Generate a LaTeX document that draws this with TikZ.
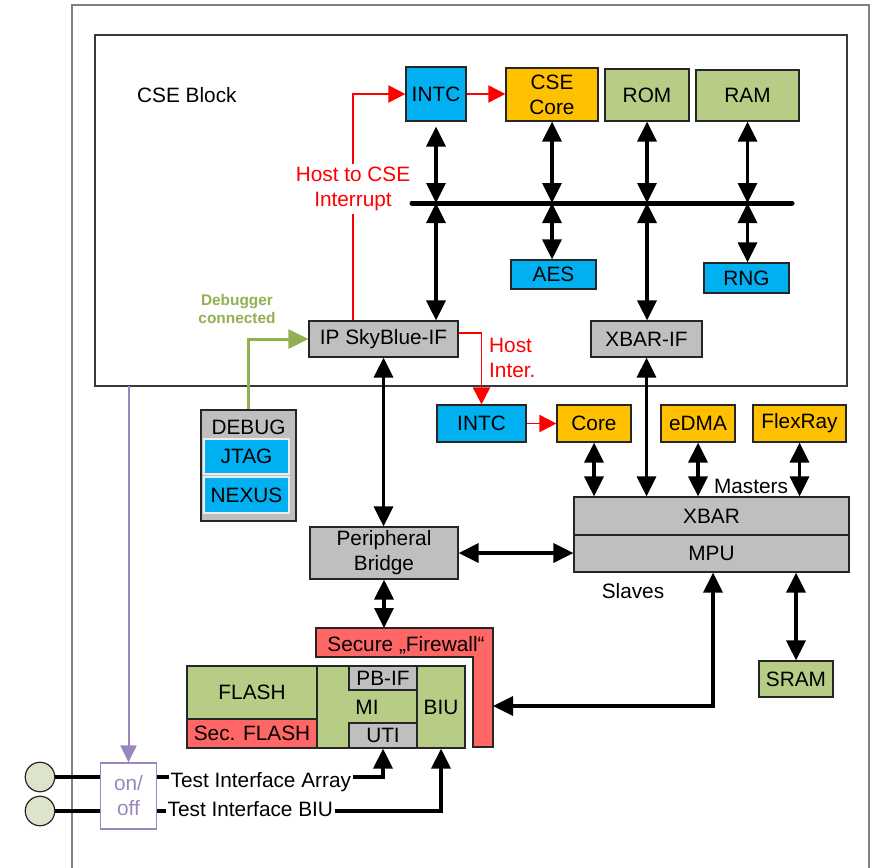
\documentclass[tikz,border=0pt]{standalone}
\usepackage{fontspec}
\setmainfont{Liberation Sans}
\usetikzlibrary{arrows.meta}

\definecolor{cyanbox}{RGB}{0,176,240}
\definecolor{orangebox}{RGB}{255,192,0}
\definecolor{greenbox}{RGB}{183,204,133}
\definecolor{graybox}{RGB}{191,191,191}
\definecolor{redbox}{RGB}{255,102,102}
\definecolor{sigred}{RGB}{255,0,0}
\definecolor{dbggreen}{RGB}{146,176,80}
\definecolor{lilac}{RGB}{155,135,192}
\definecolor{padfill}{RGB}{221,228,204}
\definecolor{edgecol}{RGB}{38,38,38}
\definecolor{framecol}{RGB}{128,128,128}

\tikzset{
  sz/.style 2 args={minimum width=#1, minimum height=#2},
  box/.style={draw=edgecol, line width=1.2pt, align=center, text=black, inner sep=0pt},
  cyanb/.style={box, fill=cyanbox},
  orangeb/.style={box, fill=orangebox},
  greenb/.style={box, fill=greenbox},
  grayb/.style={box, fill=graybox},
  redb/.style={box, fill=redbox},
  bigtip/.tip={Triangle[length=20pt,width=19pt]},
  dbl/.style={draw=black, line width=3.2pt, bigtip-bigtip},
  uni/.style={draw=black, line width=3.2pt, -bigtip},
  wire/.style={draw=black, line width=3.2pt},
  sig/.style={draw=sigred, line width=1.9pt, -{Triangle[length=17pt,width=17pt]}},
  dbgline/.style={draw=dbggreen, line width=3pt, -{Triangle[length=20pt,width=19pt]}},
  ctlline/.style={draw=lilac, line width=2pt, -{Triangle[length=17pt,width=16pt]}},
}

\begin{document}
\begin{tikzpicture}[x=1pt,y=-1pt,
  every node/.style={font=\fontsize{20.8}{25}\selectfont}]
\useasboundingbox (0,0) rectangle (872,867);
\clip (0,0) rectangle (872,867);

% chip outline and CSE block frame
\draw[framecol, line width=1.5pt] (72,5) rectangle (869,900);
\draw[edgecol!80!gray, line width=1.2pt] (95,35) rectangle (847,386);
\node[anchor=west, inner sep=0pt] (cselabel) at (137,95) {CSE Block};

% CSE internals
\node[cyanb,   sz={60}{54}]  (intcA)   at (436,94)    {INTC};
\node[orangeb, sz={92}{53}]  (csecore) at (552,94.5)  {CSE\\Core};
\node[greenb,  sz={84}{52}]  (rom)     at (647,95)    {ROM};
\node[greenb,  sz={103}{51}] (ram)     at (747.5,95.5){RAM};
\node[cyanb,   sz={85}{29}]  (aes)     at (553.5,274.5){AES};
\node[cyanb,   sz={85}{30}]  (rng)     at (746.5,278) {RNG};
\node[grayb,   sz={149}{36}] (ipsky)   at (383.5,339) {IP SkyBlue-IF};
\node[grayb,   sz={111}{36}] (xbarif)  at (646.5,339) {XBAR-IF};

% host to CSE interrupt path
\draw[sig] ([xshift=-30.5pt]ipsky.north) |- (intcA.west);
\node[fill=white, text=sigred, align=center, inner xsep=0pt, inner ysep=3pt] (hostcse) at (353,189) {Host to CSE\\Interrupt};
\draw[sig] (intcA.east) -- (intcA.east -| csecore.west);

% internal bus
\coordinate (busL) at (412,203);
\coordinate (busR) at (792,203);
\draw[black, line width=5pt, line cap=round] (busL) -- (busR);

\draw[dbl, shorten <=5pt] (intcA.south) -- (intcA.south |- busL);
\draw[dbl] (intcA.south |- busL) -- (intcA.south |- ipsky.north);
\draw[dbl] (csecore.south) -- (csecore.south |- busL);
\draw[dbl] (csecore.south |- busL) -- (csecore.south |- aes.north);
\draw[dbl] (rom.south) -- (rom.south |- busL);
\draw[dbl] (rom.south |- busL) -- (rom.south |- xbarif.north);
\draw[dbl] (ram.south) -- (ram.south |- busL);
\draw[dbl] (ram.south |- busL) -- (ram.south |- rng.north);

% host side
\node[cyanb,   sz={89}{37}]  (intcB)   at (481.5,423.5) {INTC};
\node[orangeb, sz={74}{37}]  (coreB)   at (594,423.5)   {Core};
\node[orangeb, sz={74}{37}]  (edma)    at (698,423.5)   {eDMA};
\node[orangeb, sz={93}{37}]  (flexray) at (799.5,423.5) {FlexRay};
\node[grayb,   sz={275}{38}] (xbar)    at (711.5,516)   {XBAR};
\node[grayb,   sz={275}{37}] (mpu)     at (711.5,553.5) {MPU};
\node (masters) at (751,486) {Masters};
\node (slaves)  at (633,591) {Slaves};

\draw[sig] ([yshift=6pt]ipsky.east) -| (intcB.north);
\node[anchor=west, text=sigred, align=left, inner sep=0pt] (hostinter) at (489,357.5) {Host\\Inter.};
\draw[sig] (intcB.east) -- (intcB.east -| coreB.west);

\draw[dbl] (xbarif.south) -- (xbarif.south |- xbar.north);
\draw[dbl] (coreB.south) -- (coreB.south |- xbar.north);
\draw[dbl] (edma.south) -- (edma.south |- xbar.north);
\draw[dbl] (flexray.south) -- (flexray.south |- xbar.north);

% debug port
\node[grayb, sz={95}{111}] (debug) at (248.5,465.5) {};
\node (debuglabel) at (248.5,427) {DEBUG};
\node[box, fill=cyanbox, draw=white!85!gray, line width=1.5pt, sz={85}{35}] (jtag)  at (246.5,456.5) {JTAG};
\node[box, fill=cyanbox, draw=white!85!gray, line width=1.5pt, sz={85}{36}] (nexus) at (246.5,495)   {NEXUS};
\draw[dbgline] (debug.north) |- (ipsky.west);
\node[text=dbggreen, align=center, font=\fontsize{15.4}{18.3}\selectfont\bfseries] (dbgtext) at (237,309) {Debugger\\connected};

% peripheral bridge and flash
\node[grayb, sz={148}{52}] (pbridge) at (384,553) {Peripheral\\Bridge};
\draw[dbl] (ipsky.south) -- (ipsky.south |- pbridge.north);
\draw[dbl] (pbridge.east) -- (pbridge.east -| xbar.west);

\draw[edgecol, line width=1.2pt, fill=redbox]
  (316,628) -- (493,628) -- (493,747) -- (473,747) -- (473,657) -- (316,657) -- cycle;
\node (fwlabel) at (406,645) {Secure „Firewall“};
\coordinate (fwTop) at (384,628);
\coordinate (fwRight) at (493,706);
\draw[dbl] (pbridge.south) -- (fwTop);

\node[greenb, sz={130}{53}] (flash)    at (252,692.5) {FLASH};
\node[redb,   sz={130}{29}] (secflash) at (252,733.5) {Sec. FLASH};
\node[greenb, sz={100}{82}] (mi)       at (367,707)   {MI};
\node[grayb,  sz={68}{24}]  (pbif)     at (383,678)   {PB-IF};
\node[grayb,  sz={68}{25}]  (uti)      at (383,735.5) {UTI};
\node[greenb, sz={48}{82}]  (biu)      at (441,707)   {BIU};

\draw[dbl] ([xshift=1.5pt]mpu.south) |- (fwRight);

\node[greenb, sz={74}{36}] (sram) at (796,679) {SRAM};
\draw[dbl] (sram.north) -- (sram.north |- mpu.south);

% test access
\coordinate (cseBot) at (128.5,386);
\node[draw=lilac, line width=1.2pt, text=lilac, align=center, sz={56}{66}, inner sep=0pt] (onoff) at (128.5,796) {on/\\off};
\draw[ctlline] (cseBot) -- (onoff.north);

\node[circle, draw=edgecol, fill=padfill, line width=1.2pt, minimum size=29.5pt, inner sep=0pt] (padA) at (40,777) {};
\node[circle, draw=edgecol, fill=padfill, line width=1.2pt, minimum size=29.5pt, inner sep=0pt] (padB) at (40,811) {};
\draw[wire] (padA.east) -- (padA.east -| onoff.west);
\draw[wire] (padB.east) -- (padB.east -| onoff.west);

\draw[uni] ([yshift=19pt]onoff.east) -| (uti.south);
\draw[uni] ([yshift=-15pt]onoff.east) -| (biu.south);
\node[anchor=base west, fill=white, inner xsep=2pt, inner ysep=0pt] (tia) at (168.5,787) {Test Interface Array};
\node[anchor=base west, fill=white, inner xsep=2pt, inner ysep=0pt] (tib) at (165.5,816) {Test Interface BIU};
\end{tikzpicture}
\end{document}
